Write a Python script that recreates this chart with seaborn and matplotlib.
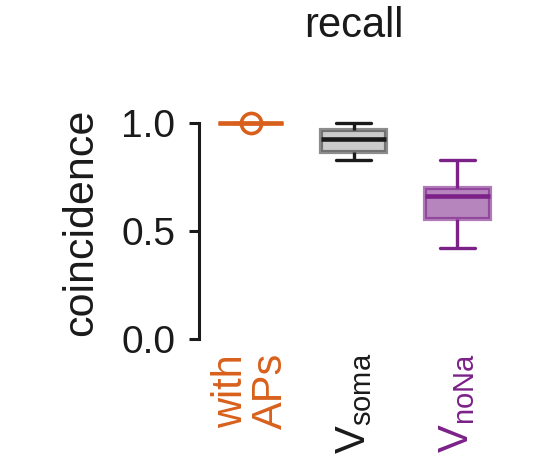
import pandas as pd
import matplotlib
matplotlib.use("Agg")
import matplotlib.pyplot as plt
import seaborn as sns
from matplotlib.colors import to_rgba

# data (5 values per group: min, q1, median, q3, max)
categories = ["with APs", "vsoma", "vnona"]
with_aps = [1.0, 1.0, 1.0, 1.0, 1.0]
v_soma = [0.83, 0.868, 0.926, 0.968, 1.0]
v_nona = [0.423, 0.556, 0.661, 0.70, 0.83]
tick_labels = ["with\nAPs", r"$\mathregular{V_{soma}}$", r"$\mathregular{V_{noNa}}$"]
colors = ["#d8601c", "#1a1a1a", "#7b2188"]

df = pd.DataFrame({
    "group": [categories[0]] * len(with_aps) + [categories[1]] * len(v_soma) + [categories[2]] * len(v_nona),
    "coincidence": with_aps + v_soma + v_nona,
})

sns.set_style("white")
plt.rcParams["font.family"] = ["Liberation Sans", "DejaVu Sans"]

fig = plt.figure(figsize=(5.42, 4.72), dpi=100)
ax = fig.add_axes([0.367, 0.282, 0.572, 0.457])

sns.boxplot(data=df, x="group", y="coincidence", hue="group", order=categories,
            hue_order=categories, palette=colors, fill=True, whis=(0, 100),
            width=0.63, linewidth=2.4, showfliers=False, legend=False, dodge=False,
            ax=ax, capwidths=0.34)

# colour the parts of each box: transparent fill and edge, solid lines
face_alpha = [0.0, 0.22, 0.55]
edge_alpha = [1.0, 0.5, 0.6]
for i, cont in enumerate(ax.containers):
    c = colors[i]
    for b in cont.boxes:
        b.set_facecolor(to_rgba(c, face_alpha[i]))
        b.set_edgecolor(to_rgba(c, edge_alpha[i]))
        b.set_linewidth(3.0 if i else 2.4)
        b.set_clip_on(False)
    for ln in list(cont.whiskers) + list(cont.caps):
        ln.set_color(c)
        ln.set_linewidth(2.4)
        ln.set_clip_on(False)
    for ln in cont.medians:
        ln.set_color(c)
        ln.set_linewidth(3.3)
        ln.set_clip_on(False)

# hollow marker for the group with APs
ax.plot(0, sum(with_aps) / len(with_aps), "o", mfc="none", mec=colors[0],
        ms=14.5, mew=2.6, zorder=5, clip_on=False)

ax.set_xlim(-0.5, 2.5)
ax.set_ylim(0, 1)
ax.set_yticks([0, 0.5, 1.0])
ax.set_yticklabels(["0.0", "0.5", "1.0"])
ax.set_xticks(range(3))
ax.set_xticklabels(tick_labels, rotation=90, va="top", ha="center", linespacing=1.0)
for t, c in zip(ax.get_xticklabels(), colors):
    t.set_color(c)
ax.tick_params(axis="y", labelsize=28, length=7, width=2.2, pad=10, color="#1a1a1a",
               left=True, direction="out", labelcolor="#1a1a1a")
ax.tick_params(axis="x", labelsize=30, length=0, pad=10)
ax.set_xlabel("")
ax.set_ylabel("coincidence", fontsize=31, color="#1a1a1a")
ax.yaxis.set_label_coords(-0.315, 0.54)
ax.set_title("recall", fontsize=30, pad=62, color="#1a1a1a")

for s in ["top", "right", "bottom"]:
    ax.spines[s].set_visible(False)
ax.spines["left"].set_linewidth(2.2)
ax.spines["left"].set_color("#1a1a1a")

fig.savefig("out.png", dpi=100, facecolor="white")
